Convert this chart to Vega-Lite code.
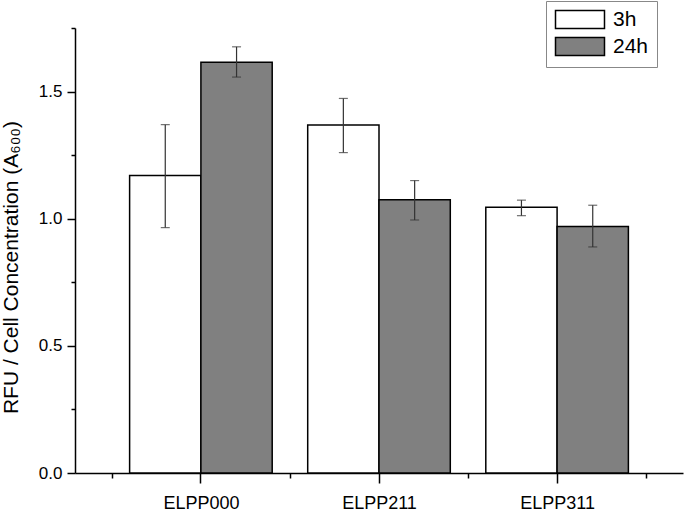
{
  "$schema": "https://vega.github.io/schema/vega-lite/v6.json",
  "autosize": {"type": "none"},
  "padding": {"left": 75, "top": 28, "right": 2, "bottom": 40},
  "width": 608,
  "height": 445,
  "background": "white",
  "config": {
    "view": {"stroke": null},
    "font": "Liberation Sans",
    "axis": {"domainColor": "#000", "domainWidth": 1.5, "tickColor": "#000", "tickWidth": 1.5, "labelColor": "#000", "titleColor": "#000", "grid": false, "labelFont": "Liberation Sans", "titleFont": "Liberation Sans", "titleFontWeight": "normal"}
  },
  "data": {
    "values": [
      {"sample": "ELPP000", "time": "3h", "value": 1.17, "lo": 0.965, "hi": 1.37},
      {"sample": "ELPP000", "time": "24h", "value": 1.615, "lo": 1.557, "hi": 1.676},
      {"sample": "ELPP211", "time": "3h", "value": 1.369, "lo": 1.26, "hi": 1.473},
      {"sample": "ELPP211", "time": "24h", "value": 1.075, "lo": 0.995, "hi": 1.15},
      {"sample": "ELPP311", "time": "3h", "value": 1.045, "lo": 1.012, "hi": 1.073},
      {"sample": "ELPP311", "time": "24h", "value": 0.969, "lo": 0.889, "hi": 1.053}
    ]
  },
  "resolve": {"axis": {"x": "independent", "y": "independent"}},
  "layer": [
    {
      "mark": {"type": "bar", "stroke": "#000", "strokeWidth": 1.5},
      "encoding": {
        "x": {"field": "sample", "type": "nominal", "sort": ["ELPP000", "ELPP211", "ELPP311"],
          "scale": {"paddingInner": 0, "paddingOuter": 0.207},
          "axis": {"title": null, "orient": "bottom", "tickBand": "extent", "tickSize": 5, "labelFontSize": 18, "labelPadding": 16, "labelAngle": 0}},
        "xOffset": {"field": "time", "type": "nominal", "sort": ["3h", "24h"], "scale": {"paddingInner": 0, "paddingOuter": 0.249}},
        "y": {"field": "value", "type": "quantitative",
          "scale": {"domain": [0, 1.75], "nice": false, "zero": true},
          "axis": {"orient": "left", "values": [0, 0.5, 1, 1.5], "format": ".1f", "tickSize": 8, "labelFontSize": 17, "labelPadding": 5,
            "title": "RFU / Cell Concentration (A₆₀₀)", "titleFontSize": 21, "titleAngle": 270, "titleX": -64, "titleY": 239, "titleAlign": "center", "titleBaseline": "middle"}},
        "fill": {"field": "time", "type": "nominal",
          "scale": {"domain": ["3h", "24h"], "range": ["#ffffff", "#808080"]},
          "legend": {"title": null, "orient": "none", "legendX": 471, "legendY": -27, "direction": "vertical",
            "strokeColor": "#888", "fillColor": "#fff", "padding": 8,
            "symbolType": "M-1,-1H4.444V1H-1Z", "symbolSize": 324, "symbolStrokeColor": "#000", "symbolStrokeWidth": 1.5,
            "labelFontSize": 21, "labelOffset": 38, "labelColor": "#000", "rowPadding": 2}}
      }
    },
    {
      "mark": {"type": "rule", "color": "#333", "strokeWidth": 1.2},
      "encoding": {
        "x": {"field": "sample", "type": "nominal", "sort": ["ELPP000", "ELPP211", "ELPP311"],
          "axis": {"title": null, "orient": "bottom", "labels": false, "domain": false, "tickSize": 10}},
        "xOffset": {"field": "time", "type": "nominal", "sort": ["3h", "24h"]},
        "y": {"field": "lo", "type": "quantitative",
          "axis": {"orient": "left", "values": [0.25, 0.75, 1.25, 1.75], "labels": false, "domain": false, "tickSize": 4, "title": null}},
        "y2": {"field": "hi"}
      }
    },
    {
      "mark": {"type": "tick", "color": "#333", "size": 9, "thickness": 1.2},
      "encoding": {
        "x": {"field": "sample", "type": "nominal", "sort": ["ELPP000", "ELPP211", "ELPP311"], "axis": null},
        "xOffset": {"field": "time", "type": "nominal", "sort": ["3h", "24h"]},
        "y": {"field": "lo", "type": "quantitative", "axis": null}
      }
    },
    {
      "mark": {"type": "tick", "color": "#333", "size": 9, "thickness": 1.2},
      "encoding": {
        "x": {"field": "sample", "type": "nominal", "sort": ["ELPP000", "ELPP211", "ELPP311"], "axis": null},
        "xOffset": {"field": "time", "type": "nominal", "sort": ["3h", "24h"]},
        "y": {"field": "hi", "type": "quantitative", "axis": null}
      }
    }
  ]
}
